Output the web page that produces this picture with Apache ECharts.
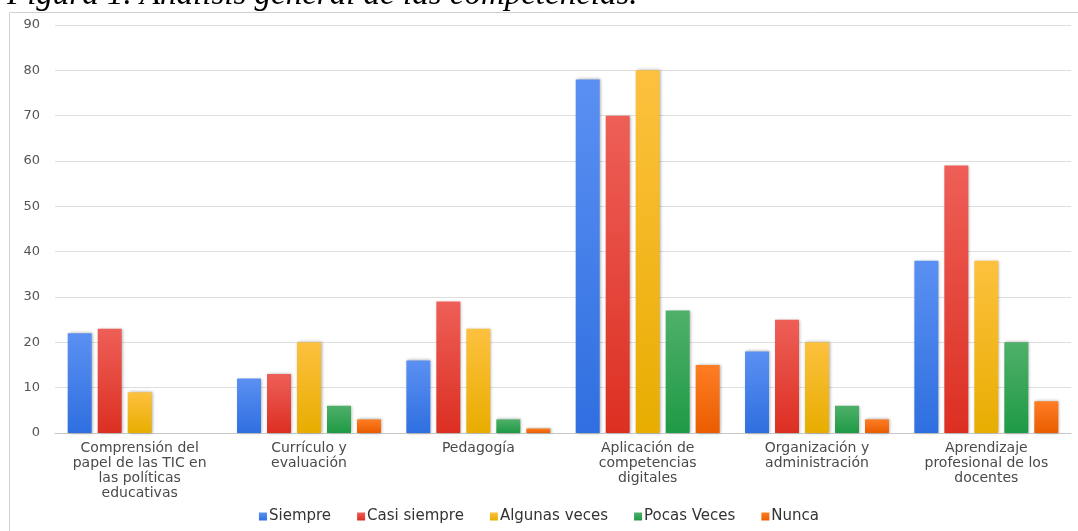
<!DOCTYPE html>
<html>
<head>
<meta charset="utf-8">
<script src="https://cdn.jsdelivr.net/npm/echarts@6/dist/echarts.min.js"></script>
<style>
  html, body { margin: 0; padding: 0; background: #fff; }
  #main { width: 1078px; height: 531px; }
</style>
</head>
<body>
<div id="main"></div>
<script>
// categorias
var categories = [
  'Comprensión del\npapel de las TIC en\nlas políticas\neducativas',
  'Currículo y\nevaluación',
  'Pedagogía',
  'Aplicación de\ncompetencias\ndigitales',
  'Organización y\nadministración',
  'Aprendizaje\nprofesional de los\ndocentes'
];
var seriesNames = ['Siempre', 'Casi siempre', 'Algunas veces', 'Pocas Veces', 'Nunca'];
var siempre = [22, 12, 16, 78, 18, 38];
var casiSiempre = [23, 13, 29, 70, 25, 59];
var algunasVeces = [9, 20, 23, 80, 20, 38];
var pocasVeces = [0, 6, 3, 27, 6, 20];
var nunca = [0, 3, 1, 15, 3, 7];
var yTicks = [0, 10, 20, 30, 40, 50, 60, 70, 80, 90];

var values = [siempre, casiSiempre, algunasVeces, pocasVeces, nunca];
// colores: [arriba, abajo, leyenda]
var colores = [
  ['#5b90f2', '#2f6fe0', '#3b7be8'],
  ['#ee5f57', '#dc2f22', '#e53a2f'],
  ['#fdc13f', '#e8ad00', '#fbbc05'],
  ['#4fb06a', '#1f9a45', '#2fa350'],
  ['#ff7d24', '#ea5d00', '#ff6d0a']
];
var fuente = '"DejaVu Sans", Verdana, sans-serif';

var myChart = echarts.init(document.getElementById('main'));

var series = [];
for (var i = 0; i < seriesNames.length; i++) {
  series.push({
    name: seriesNames[i],
    type: 'bar',
    barGap: '25%',
    barCategoryGap: '15%',
    data: values[i],
    itemStyle: {
      color: new echarts.graphic.LinearGradient(0, 0, 0, 1, [
        { offset: 0, color: colores[i][0] },
        { offset: 1, color: colores[i][1] }
      ]),
      shadowBlur: 3,
      shadowOffsetX: 1,
      shadowOffsetY: 0,
      shadowColor: 'rgba(0,0,0,0.35)'
    }
  });
}

option = {
  animation: false,
  color: colores.map(function (c) { return c[2]; }),
  graphic: [
    {
      type: 'rect',
      left: 7, top: 10,
      shape: { width: 1080, height: 530 },
      style: { fill: 'none', stroke: '#d0d0d0', lineWidth: 1 },
      silent: true
    },
    {
      type: 'text',
      left: 7, top: -21,
      style: {
        text: 'Figura 1. Análisis general de las competencias.',
        font: 'italic 33px "Liberation Serif", "Times New Roman", serif',
        fill: '#000'
      },
      silent: true
    }
  ],
  legend: {
    bottom: 2,
    left: 'center',
    icon: 'rect',
    itemWidth: 8,
    itemHeight: 8,
    itemGap: 26,
    textStyle: {
      color: '#333',
      fontSize: 15,
      fontFamily: fuente,
      padding: [0, 0, 0, -3]
    },
    data: seriesNames
  },
  grid: {
    left: 55,
    right: 7,
    top: 25,
    bottom: 98
  },
  xAxis: {
    type: 'category',
    data: categories,
    axisTick: { show: false },
    axisLine: { lineStyle: { color: '#c8c8c8' } },
    axisLabel: {
      interval: 0,
      margin: 8,
      color: '#4a4a4a',
      fontSize: 14,
      lineHeight: 15,
      fontFamily: fuente
    }
  },
  yAxis: {
    type: 'value',
    min: yTicks[0],
    max: yTicks[yTicks.length - 1],
    interval: 10,
    axisLine: { show: false },
    axisTick: { show: false },
    splitLine: { lineStyle: { color: '#dedede' } },
    axisLabel: {
      color: '#555',
      fontSize: 13,
      margin: 15,
      fontFamily: fuente
    }
  },
  series: series
};

myChart.setOption(option);
</script>
</body>
</html>
